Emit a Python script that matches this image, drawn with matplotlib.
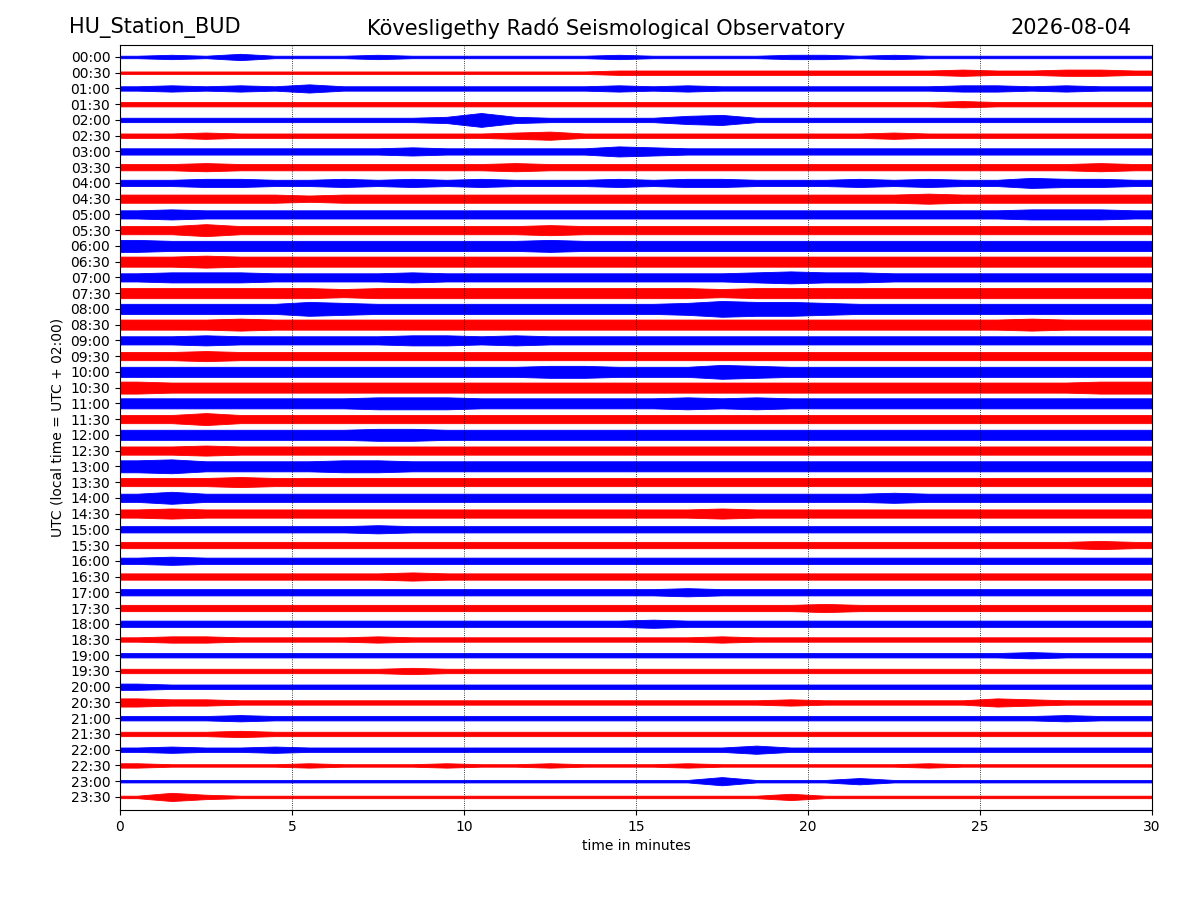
"""
Day plot (helicorder) of station BUD, redrawn from the published picture.
Each trace is drawn as its amplitude envelope, one level per minute,
read off the reference image (level = half-width of the band in pixels).
"""

import matplotlib
matplotlib.use('Agg')
import matplotlib.pyplot as plt
import numpy as np

station = 'HU_Station_BUD'
observatory = 'Kövesligethy Radó Seismological Observatory'
date_str = '2026-08-04'

# trace start times (UTC), one trace per 30 minutes
trace_labels = [f'{h:02d}:{m:02d}' for h in range(24) for m in (0, 30)]
minute_ticks = [0, 5, 10, 15, 20, 25, 30]

# envelope levels, one digit per minute (0..29)
envelopes = [
    '12131 11211 11112 11112 21211 11111',  # 00:00
    '11111 11111 11112 22222 22223 22332',  # 00:30
    '23232 42222 22223 23222 22223 32322',  # 01:00
    '22222 22222 22222 22222 22223 22222',  # 01:30
    '22222 22223 73222 24522 22222 22222',  # 02:00
    '22322 22222 23422 22222 22322 22222',  # 02:30
    '33333 33343 33335 43333 33333 33333',  # 03:00
    '33433 33333 34333 33333 33333 33343',  # 03:30
    '33443 34343 43334 34433 34343 35443',  # 04:00
    '44444 34444 44444 44444 44454 44444',  # 04:30
    '45444 44444 44444 44444 44444 45554',  # 05:00
    '44644 44444 44544 44444 44444 44444',  # 05:30
    '65555 55555 55655 55555 55555 55555',  # 06:00
    '55655 55555 55555 55555 55555 55555',  # 06:30
    '45554 44454 44444 44456 55444 44444',  # 07:00
    '55555 54555 55555 55455 55555 55555',  # 07:30
    '55555 76555 55555 56877 65555 55555',  # 08:00
    '55565 55555 55555 55555 55555 56555',  # 08:30
    '44544 44455 45444 44444 44444 44444',  # 09:00
    '44544 44444 44444 44444 44444 44444',  # 09:30
    '55555 55555 55665 55765 55555 55555',  # 10:00
    '65555 55555 55555 55555 55555 55566',  # 10:30
    '55555 55666 55555 56565 55555 55555',  # 11:00
    '44644 44444 44444 44444 44444 44444',  # 11:30
    '55555 55665 55555 55555 55555 55555',  # 12:00
    '44544 44444 44444 44444 44444 44444',  # 12:30
    '67555 56655 55555 55555 55555 55555',  # 13:00
    '44454 44444 44444 44444 44444 44444',  # 13:30
    '46444 44444 44444 44444 44544 44444',  # 14:00
    '45444 44444 44444 44544 44444 44444',  # 14:30
    '33333 33433 33333 33333 33333 33333',  # 15:00
    '33333 33333 33333 33333 33333 33343',  # 15:30
    '34333 33333 33333 33333 33333 33333',  # 16:00
    '33333 33343 33333 33333 33333 33333',  # 16:30
    '33333 33333 33333 34333 33333 33333',  # 17:00
    '33333 33333 33333 33333 43333 33333',  # 17:30
    '33333 33333 33333 43333 33333 33333',  # 18:00
    '23322 22322 22222 22322 22222 22222',  # 18:30
    '22222 22222 22222 22222 22222 23222',  # 19:00
    '22222 22232 22222 22222 22222 22222',  # 19:30
    '32222 22222 22222 22222 22222 22222',  # 20:00
    '43322 22222 22222 22223 22222 43222',  # 20:30
    '22232 22222 22222 22222 22222 22322',  # 21:00
    '22232 22222 22222 22222 22222 22222',  # 21:30
    '23223 22222 22222 22242 22222 22222',  # 22:00
    '21111 21112 11211 12111 11121 11111',  # 22:30
    '11111 11111 11111 11411 13111 11111',  # 23:00
    '14211 11111 11111 11113 11111 11111',  # 23:30
]

colors = ['#0000ff', '#ff0000']

PX_PER_TRACE = 15.74  # vertical spacing of the traces in the picture


def envelope_halfwidth(levels: str) -> np.ndarray:
    """Convert a digit string to half-widths in trace units"""
    digits = np.array([int(c) for c in levels.replace(' ', '')], dtype=float)
    return (0.3 + 0.95 * digits) / PX_PER_TRACE


fig = plt.figure(figsize=(12, 9), dpi=100)
ax = fig.add_axes([0.1, 0.1, 0.86, 0.85])

for i, levels in enumerate(envelopes):
    half = envelope_halfwidth(levels)
    # one value per minute, placed at the middle of each minute;
    # the first and last values are held out to the plot edges
    x = np.concatenate([[0.0], np.arange(len(half)) + 0.5, [len(half)]])
    half = np.concatenate([[half[0]], half, [half[-1]]])
    ax.fill_between(x, i - half, i + half,
                    color=colors[i % 2], linewidth=0.6,
                    edgecolor=colors[i % 2])

ax.set_xlim(0, 30)
ax.set_ylim(47.83, -0.76)
ax.set_xticks(minute_ticks)
ax.set_yticks(range(len(trace_labels)))
ax.set_yticklabels(trace_labels)
ax.grid(axis='x', linestyle=':', color='k', linewidth=0.6)
ax.set_xlabel('time in minutes')
ax.set_ylabel('UTC (local time = UTC + 02:00)')

fig.text(0.0575, 0.969, station, fontsize=15, ha='left', va='center')
fig.text(0.505, 0.969, observatory, fontsize=15, ha='center', va='center')
fig.text(0.943, 0.969, date_str, fontsize=15, ha='right', va='center')

fig.savefig('out.png', dpi=100)
